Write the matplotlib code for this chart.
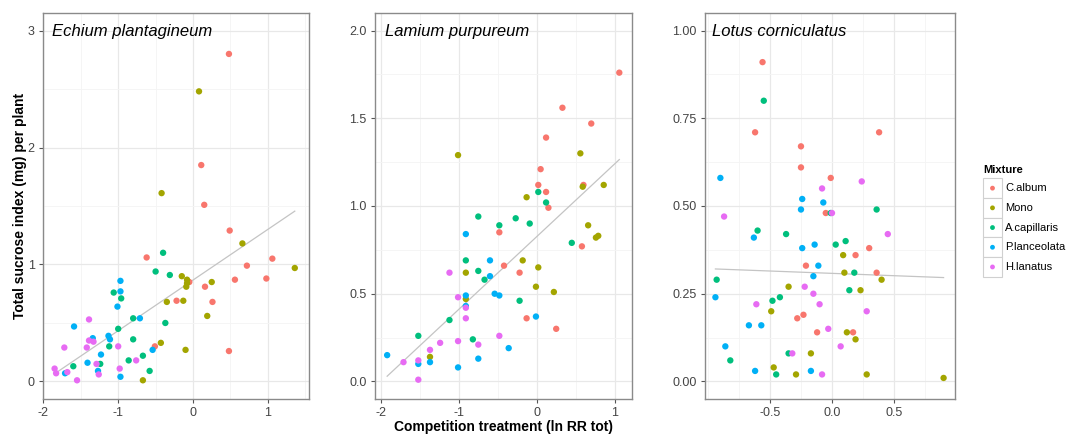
import numpy as np
import matplotlib
matplotlib.use('Agg')
from matplotlib import pyplot as plt
from matplotlib.patches import Rectangle
from matplotlib.ticker import AutoMinorLocator, FormatStrFormatter

plt.rcParams['font.family'] = ['Liberation Sans', 'DejaVu Sans']
plt.rcParams['axes.unicode_minus'] = False

mixtures = ['C.album', 'Mono', 'A.capillaris', 'P.lanceolata', 'H.lanatus']
colors = ['#F8766D', '#A3A500', '#00BF7D', '#00B0F6', '#E76BF3']

# Echium plantagineum (x = ln RR tot, y = sucrose index)
echium_calbum = [(0.48, 2.80), (0.11, 1.85), (0.15, 1.51), (0.49, 1.29), (-0.62, 1.06),
                 (1.06, 1.05), (0.72, 0.99), (0.98, 0.88), (0.56, 0.87), (0.16, 0.81),
                 (-0.05, 0.85), (-0.22, 0.69), (0.26, 0.68), (-0.51, 0.30), (0.48, 0.26)]
echium_mono = [(0.08, 2.48), (-0.42, 1.61), (0.66, 1.18), (1.36, 0.97), (-0.15, 0.90),
               (-0.08, 0.87), (-0.08, 0.84), (-0.09, 0.81), (0.25, 0.85), (-0.35, 0.68),
               (-0.13, 0.69), (0.19, 0.56), (-0.43, 0.33), (-0.10, 0.27), (-0.67, 0.01)]
echium_acap = [(-0.40, 1.10), (-0.50, 0.94), (-0.31, 0.91), (-1.06, 0.76), (-0.96, 0.71),
               (-0.80, 0.54), (-0.37, 0.50), (-1.00, 0.45), (-0.80, 0.36), (-1.12, 0.30),
               (-1.24, 0.15), (-1.60, 0.13), (-0.86, 0.18), (-0.67, 0.22), (-0.58, 0.09)]
echium_plan = [(-0.97, 0.86), (-0.97, 0.77), (-1.01, 0.64), (-0.71, 0.54), (-1.59, 0.47),
               (-1.13, 0.39), (-1.34, 0.37), (-1.11, 0.36), (-1.23, 0.23), (-0.54, 0.27),
               (-1.41, 0.16), (-1.27, 0.09), (-1.71, 0.07), (-0.97, 0.04)]
echium_hlan = [(-1.39, 0.53), (-1.72, 0.29), (-1.39, 0.35), (-1.33, 0.34), (-1.42, 0.29),
               (-1.00, 0.30), (-0.76, 0.18), (-1.29, 0.15), (-1.26, 0.06), (-1.68, 0.08),
               (-1.85, 0.11), (-1.83, 0.07), (-1.55, 0.01), (-0.98, 0.11)]

# Lamium purpureum
lamium_calbum = [(1.06, 1.76), (0.33, 1.56), (0.70, 1.47), (0.12, 1.39), (0.05, 1.21),
                 (0.02, 1.12), (0.12, 1.08), (0.15, 0.99), (0.60, 1.12), (-0.48, 0.85),
                 (0.58, 0.77), (-0.42, 0.66), (-0.22, 0.62), (-0.13, 0.36), (0.25, 0.30)]
lamium_mono = [(-1.01, 1.29), (0.56, 1.30), (0.59, 1.11), (0.86, 1.12), (-0.13, 1.05),
               (0.66, 0.89), (0.76, 0.82), (0.79, 0.83), (-0.18, 0.69), (0.02, 0.65),
               (-0.91, 0.62), (-0.01, 0.54), (0.22, 0.51), (-0.91, 0.47), (-1.37, 0.14)]
lamium_acap = [(-0.75, 0.94), (-0.48, 0.89), (-0.27, 0.93), (-0.09, 0.90), (0.02, 1.08),
               (0.12, 1.02), (0.45, 0.79), (-0.91, 0.69), (-0.75, 0.63), (-0.67, 0.58),
               (-0.22, 0.46), (-1.12, 0.35), (-0.82, 0.24), (-1.52, 0.26)]
lamium_plan = [(-0.91, 0.84), (-0.60, 0.69), (-0.60, 0.60), (-0.54, 0.50), (-0.48, 0.49),
               (-0.91, 0.49), (-0.91, 0.43), (-0.01, 0.37), (-0.36, 0.19), (-0.75, 0.13),
               (-1.01, 0.08), (-1.37, 0.11), (-1.52, 0.10), (-1.92, 0.15)]
lamium_hlan = [(-1.01, 0.48), (-0.91, 0.42), (-0.91, 0.36), (-1.12, 0.62), (-0.48, 0.26),
               (-1.01, 0.23), (-0.75, 0.21), (-1.24, 0.22), (-1.37, 0.18), (-1.52, 0.12),
               (-1.71, 0.11), (-1.52, 0.01)]

# Lotus corniculatus
lotus_calbum = [(-0.56, 0.91), (-0.62, 0.71), (-0.25, 0.67), (-0.25, 0.61), (-0.01, 0.58),
                (-0.05, 0.48), (0.38, 0.71), (0.30, 0.38), (0.19, 0.36), (-0.21, 0.33),
                (0.36, 0.31), (-0.23, 0.19), (-0.28, 0.18), (-0.12, 0.14), (0.17, 0.14)]
lotus_mono = [(0.09, 0.36), (0.10, 0.31), (-0.35, 0.27), (0.23, 0.26), (0.40, 0.29),
              (-0.49, 0.20), (0.12, 0.14), (0.19, 0.12), (-0.17, 0.08), (-0.47, 0.04),
              (-0.29, 0.02), (0.28, 0.02), (0.90, 0.01)]
lotus_acap = [(-0.55, 0.80), (-0.60, 0.43), (-0.37, 0.42), (-0.01, 0.48), (0.36, 0.49),
              (0.11, 0.40), (0.03, 0.39), (0.18, 0.31), (0.14, 0.26), (-0.93, 0.29),
              (-0.42, 0.24), (-0.48, 0.23), (-0.35, 0.08), (-0.82, 0.06), (-0.45, 0.02)]
lotus_plan = [(-0.90, 0.58), (-0.24, 0.52), (-0.07, 0.51), (-0.25, 0.49), (-0.63, 0.41),
              (-0.24, 0.38), (-0.14, 0.39), (-0.11, 0.33), (-0.15, 0.30), (-0.94, 0.24),
              (-0.57, 0.16), (-0.67, 0.16), (-0.86, 0.10), (-0.62, 0.03), (-0.17, 0.03)]
lotus_hlan = [(-0.87, 0.47), (-0.08, 0.55), (0.00, 0.48), (0.24, 0.57), (0.45, 0.42),
              (-0.22, 0.27), (-0.61, 0.22), (-0.15, 0.25), (-0.10, 0.22), (0.28, 0.20),
              (-0.03, 0.15), (0.07, 0.10), (-0.32, 0.08), (-0.08, 0.02)]

W, H = 1077, 434
fig = plt.figure(figsize=(W / 100, H / 100), dpi=100)


def add_axes_px(left, top, right, bottom):
    return fig.add_axes([left / W, 1 - bottom / H, (right - left) / W, (bottom - top) / H])


panels = [
    ('Echium plantagineum',
     [echium_calbum, echium_mono, echium_acap, echium_plan, echium_hlan],
     (43, 13, 309, 399), (-2.005, 1.55), (-0.15, 3.15), [-2, -1, 0, 1], [0, 1, 2, 3],
     '%d', '%d', 9),
    ('Lamium purpureum',
     [lamium_calbum, lamium_mono, lamium_acap, lamium_plan, lamium_hlan],
     (375, 13, 632, 399), (-2.076, 1.223), (-0.1, 2.1), [-2, -1, 0, 1],
     [0, 0.5, 1, 1.5, 2], '%d', '%.1f', 10),
    ('Lotus corniculatus',
     [lotus_calbum, lotus_mono, lotus_acap, lotus_plan, lotus_hlan],
     (705, 13, 955, 399), (-1.024, 0.992), (-0.05, 1.05), [-0.5, 0, 0.5],
     [0, 0.25, 0.5, 0.75, 1], '%.1f', '%.2f', 7),
]

for title, groups, box, xlim, ylim, xt, yt, xfmt, yfmt, tx in panels:
    ax = add_axes_px(*box)
    allx, ally = [], []
    for pts, c in zip(groups, colors):
        xs = [p[0] for p in pts]
        ys = [p[1] for p in pts]
        allx += xs
        ally += ys
        ax.scatter(xs, ys, s=21, color=c, edgecolors='none', zorder=3)

    # linear fit over all mixtures
    k, b = np.polyfit(allx, ally, 1)
    xx = np.array([min(allx), max(allx)])
    ax.plot(xx, k * xx + b, color='#c4c4c4', lw=0.9, zorder=2)

    ax.set_xlim(xlim)
    ax.set_ylim(ylim)
    ax.set_xticks(xt)
    ax.set_yticks(yt)
    ax.xaxis.set_major_formatter(FormatStrFormatter(xfmt))
    ax.yaxis.set_major_formatter(FormatStrFormatter(yfmt))
    ax.xaxis.set_minor_locator(AutoMinorLocator(2))
    ax.yaxis.set_minor_locator(AutoMinorLocator(2))
    ax.grid(which='major', color='#e8e8e8', lw=0.9, zorder=0)
    ax.grid(which='minor', color='#f4f4f4', lw=0.6, zorder=0)
    ax.set_axisbelow(True)
    ax.tick_params(which='major', length=3, width=0.8, color='#555555',
                   labelsize=9, labelcolor='#444444', pad=3)
    ax.tick_params(which='minor', length=0)
    for sp in ax.spines.values():
        sp.set_color('#8a8a8a')
        sp.set_linewidth(1.0)
    ax.text(tx / (box[2] - box[0]), 1 - 19 / (box[3] - box[1]), title,
            transform=ax.transAxes, style='italic', fontsize=12, ha='left', va='center')

fig.text(20 / W, 1 - 206 / H, 'Total sucrose index (mg) per plant', rotation=90,
         fontsize=10, fontweight='bold', ha='center', va='center')
fig.text(503.5 / W, 1 - 427 / H, 'Competition treatment (ln RR tot)',
         fontsize=10, fontweight='bold', ha='center', va='center')

# legend drawn as ggplot-style key boxes
lax = add_axes_px(980, 160, 1077, 282)
lax.set_xlim(0, 97)
lax.set_ylim(122, 0)
lax.axis('off')
lax.text(3, 10, 'Mixture', fontsize=8, fontweight='bold', ha='left', va='center')
for i, (name, c) in enumerate(zip(mixtures, colors)):
    top = 18.3 + i * 19.7
    lax.add_patch(Rectangle((3, top), 19, 19.7, fc='white', ec='#d0d0d0', lw=0.8))
    lax.scatter([12.5], [top + 9.85], s=12, color=c, edgecolors='none')
    lax.text(25, top + 9.85, name, fontsize=8, ha='left', va='center')

fig.savefig('out.png', dpi=100)
